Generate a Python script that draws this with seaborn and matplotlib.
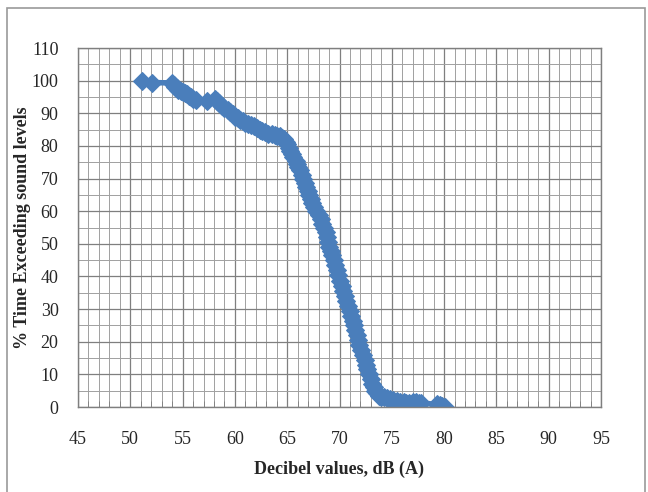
import matplotlib
matplotlib.use("Agg")
import matplotlib.pyplot as plt
from matplotlib.patches import Rectangle
from matplotlib.ticker import MultipleLocator
import pandas as pd
import seaborn as sns

# noise level readings (dB(A)) vs % of time exceeded
decibel = [51.1, 52.1, 54.0, 54.2, 54.3, 54.5, 54.6, 54.8, 55.0, 55.2,
           55.4, 55.6, 55.8, 56.0, 56.3, 57.3, 58.1, 58.3, 58.5, 58.8,
           59.0, 59.3, 59.5, 59.8, 60.0, 60.3, 60.5, 60.8, 61.0, 61.3,
           61.5, 61.8, 62.1, 62.4, 62.6, 62.9, 63.2, 63.5, 63.8, 64.0,
           64.3, 64.5, 64.7, 64.9, 65.0, 65.2, 65.3, 65.5, 65.6, 65.8,
           65.9, 66.0, 66.2, 66.4, 66.5, 66.7, 66.8, 67.0, 67.1, 67.3,
           67.4, 67.6, 67.8, 68.0, 68.2, 68.3, 68.5, 68.7, 68.8, 68.9,
           69.0, 69.2, 69.3, 69.5, 69.6, 69.8, 69.9, 70.0, 70.2, 70.3,
           70.5, 70.6, 70.8, 71.0, 71.1, 71.3, 71.4, 71.5, 71.7, 71.8,
           71.9, 72.1, 72.2, 72.4, 72.5, 72.6, 72.8, 73.0, 73.1, 73.3,
           73.4, 73.6, 73.8, 74.0, 74.3, 74.5, 74.8, 75.1, 75.5, 75.8,
           76.2, 76.4, 76.6, 77.0, 77.3, 77.6, 77.8, 79.3, 79.6, 79.8,
           80.1]
pct_exceeding = [100.0, 99.4, 99.3, 98.8, 98.2, 97.6, 97.0, 96.8, 96.5, 96.2,
                 95.8, 95.4, 95.0, 94.5, 94.0, 93.8, 94.5, 93.8, 93.0, 92.2,
                 91.5, 91.0, 90.5, 89.7, 89.0, 88.5, 88.0, 87.5, 87.0, 86.8,
                 86.5, 86.0, 85.5, 85.0, 84.5, 84.2, 83.8, 83.5, 83.2, 83.1,
                 83.0, 82.5, 82.0, 81.2, 80.5, 79.5, 78.5, 77.5, 76.5, 75.5,
                 74.5, 73.5, 72.5, 71.2, 70.0, 68.7, 67.5, 66.2, 65.0, 63.7,
                 62.5, 61.2, 60.0, 58.7, 57.5, 56.2, 55.0, 53.5, 52.0, 50.5,
                 49.0, 47.7, 46.5, 45.0, 43.5, 42.0, 40.5, 38.7, 37.0, 35.5,
                 34.0, 32.5, 31.0, 29.5, 28.0, 26.5, 25.0, 23.5, 22.0, 20.5,
                 19.0, 17.5, 16.0, 14.5, 13.0, 11.5, 10.0, 8.5, 7.0, 6.0,
                 5.0, 4.2, 3.5, 3.2, 3.0, 2.8, 2.5, 2.2, 1.8, 1.6,
                 1.5, 1.3, 1.2, 1.4, 1.5, 1.3, 1.2, 0.8, 0.5, 0.3,
                 0.0]

df = pd.DataFrame({"dB": decibel, "pct": pct_exceeding})

sns.set_style("white")
plt.rcParams["font.family"] = ["Liberation Serif", "DejaVu Serif"]

fig = plt.figure(figsize=(6.48, 4.92), dpi=100)
ax = fig.add_axes([78 / 648, 1 - 407 / 492, (601 - 78) / 648, (407 - 48) / 492])

# outer chart border like the excel chart area
fig.patches.append(Rectangle((7 / 648, -0.05), (645 - 7) / 648, 1.05 - 8 / 492,
                             transform=fig.transFigure, fill=False,
                             edgecolor="#9a9a9a", linewidth=1.2))

sns.lineplot(data=df, x="dB", y="pct", sort=False, estimator=None, ax=ax,
             color="#4a7ebb", linewidth=4, marker="D", markersize=9,
             markeredgecolor="#4a7ebb")

ax.set_xlim(45, 95)
ax.set_ylim(0, 110)
ax.xaxis.set_major_locator(MultipleLocator(5))
ax.xaxis.set_minor_locator(MultipleLocator(1))
ax.yaxis.set_major_locator(MultipleLocator(10))
ax.yaxis.set_minor_locator(MultipleLocator(5))

ax.grid(which="major", color="#7f7f7f", linewidth=0.9)
ax.grid(which="minor", color="#a0a0a0", linewidth=0.7)
ax.set_axisbelow(True)
for sp in ax.spines.values():
    sp.set_color("#7f7f7f")
    sp.set_linewidth(1.0)

ax.tick_params(axis="x", which="major", length=0, pad=17, labelsize=13)
ax.tick_params(axis="y", which="major", length=0, pad=14, labelsize=13)
ax.tick_params(axis="x", which="minor", direction="in", length=4, color="#7f7f7f", bottom=True)
ax.tick_params(axis="y", which="minor", length=0)

ax.set_xlabel("Decibel values, dB (A)", fontsize=13, fontweight="bold")
ax.set_ylabel("% Time Exceeding sound levels", fontsize=13, fontweight="bold")
ax.xaxis.set_label_coords(0.5, (407 - 461) / 359)
ax.yaxis.set_label_coords((31 - 78) / 523, 0.5)

fig.savefig("out.png", dpi=100)
